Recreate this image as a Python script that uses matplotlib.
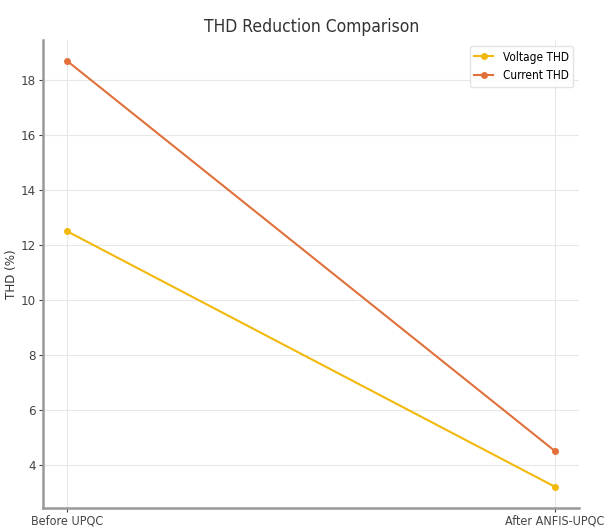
import matplotlib
matplotlib.use("Agg")
import matplotlib.pyplot as plt

plt.rcParams['font.family'] = ['DejaVu Sans']
plt.rcParams['font.stretch'] = 'condensed'

stages = ["Before UPQC", "After ANFIS-UPQC"]
voltage_thd = [12.5, 3.2]
current_thd = [18.7, 4.5]

fig = plt.figure(figsize=(6.06, 5.32), dpi=100)
ax = fig.add_axes([0.071, 0.045, 0.885, 0.88])

ax.plot(stages, voltage_thd, marker='o', markersize=4, linewidth=1.5,
        color='#f2b90c', label='Voltage THD')
ax.plot(stages, current_thd, marker='o', markersize=4, linewidth=1.5,
        color='#e2703a', label='Current THD')

ax.set_title("THD Reduction Comparison", fontsize=12.5, color='#333333', pad=6)
ax.set_ylabel("THD (%)", fontsize=9.5, color='#333333', labelpad=2)
ax.set_yticks([4, 6, 8, 10, 12, 14, 16, 18])
ax.tick_params(axis='y', labelsize=9.5, colors='#444444', length=3, pad=2)
ax.tick_params(axis='x', labelsize=9, colors='#444444', length=3, pad=1.5)
ax.grid(True, color='#e8e8e8', linewidth=0.8)
for side in ('top', 'right'):
    ax.spines[side].set_visible(False)
for side in ('left', 'bottom'):
    ax.spines[side].set_color('#999999')
    ax.spines[side].set_linewidth(1.8)

ax.legend(loc='upper right', fontsize=8.5, frameon=True, edgecolor='#dddddd',
          handlelength=1.6)

fig.savefig("out.png", dpi=100)
